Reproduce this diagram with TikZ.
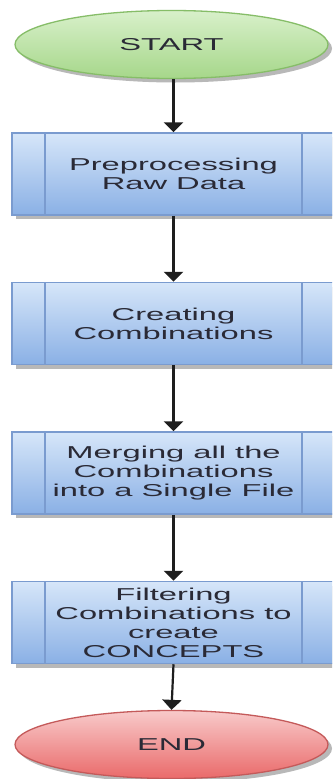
\documentclass[tikz,border=0pt]{standalone}
\usepackage{fontspec}
\setmainfont[FakeStretch=1.9]{Liberation Sans}
\usetikzlibrary{shapes.geometric,arrows.meta,shadows}
\definecolor{txt}{HTML}{2A2A36}
\definecolor{boxtop}{HTML}{D6E6F9}
\definecolor{boxbot}{HTML}{8AB0E5}
\definecolor{boxline}{HTML}{7A9BCF}
\definecolor{gtop}{HTML}{D8F0CA}
\definecolor{gbot}{HTML}{A6D78A}
\definecolor{gline}{HTML}{86BD68}
\definecolor{rtop}{HTML}{F8CACA}
\definecolor{rbot}{HTML}{EA6A6A}
\definecolor{rline}{HTML}{C45A5A}
\definecolor{arr}{HTML}{1E1E1E}
\tikzset{
  lbl/.style={text=txt, font=\fontsize{17.2}{19}\selectfont, align=center},
  sshadow/.style={drop shadow={shadow xshift=4pt, shadow yshift=-4pt, fill=black!28, opacity=1}},
  process/.style={lbl, rectangle, minimum width=323pt, minimum height=82pt, inner sep=0pt,
    draw=boxline, line width=1.5pt, top color=boxtop, bottom color=boxbot, sshadow,
    path picture={
      \draw[boxline, line width=2pt]
        ([xshift=33pt]path picture bounding box.north west) -- ([xshift=33pt]path picture bounding box.south west)
        ([xshift=-33pt]path picture bounding box.north east) -- ([xshift=-33pt]path picture bounding box.south east);
    }},
  terminal/.style={lbl, ellipse, minimum width=313pt, minimum height=68pt, inner sep=0pt, line width=1.3pt, sshadow},
  startst/.style={terminal, draw=gline, top color=gtop, bottom color=gbot},
  endst/.style={terminal, draw=rline, top color=rtop, bottom color=rbot},
  flow/.style={arr, line width=2.2pt, -{Triangle[width=19pt,length=10pt]}}
}
\begin{document}
\begin{tikzpicture}[x=1pt,y=-1pt]
\clip (0,0) rectangle (332,779);
\fill[white] (0,0) rectangle (332,779);
\node[startst] (start) at (171.5,44.5) {START};
\node[process] (p1) at (173.5,174) {Preprocessing\\Raw Data};
\node[process] (p2) at (173.5,323.5) {Creating\\Combinations};
\node[process] (p3) at (173.5,473) {Merging all the\\Combinations\\into a Single File};
\node[process] (p4) at (173.5,622.5) {Filtering\\Combinations to\\create\\CONCEPTS};
\node[endst] (end) at (171.5,744.5) {END};
\draw[flow] (start.south -| p1.north) -- (p1.north);
\draw[flow] (p1) -- (p2);
\draw[flow] (p2) -- (p3);
\draw[flow] (p3) -- (p4);
\draw[flow] (p4.south) -- (end.north);
\end{tikzpicture}
\end{document}
